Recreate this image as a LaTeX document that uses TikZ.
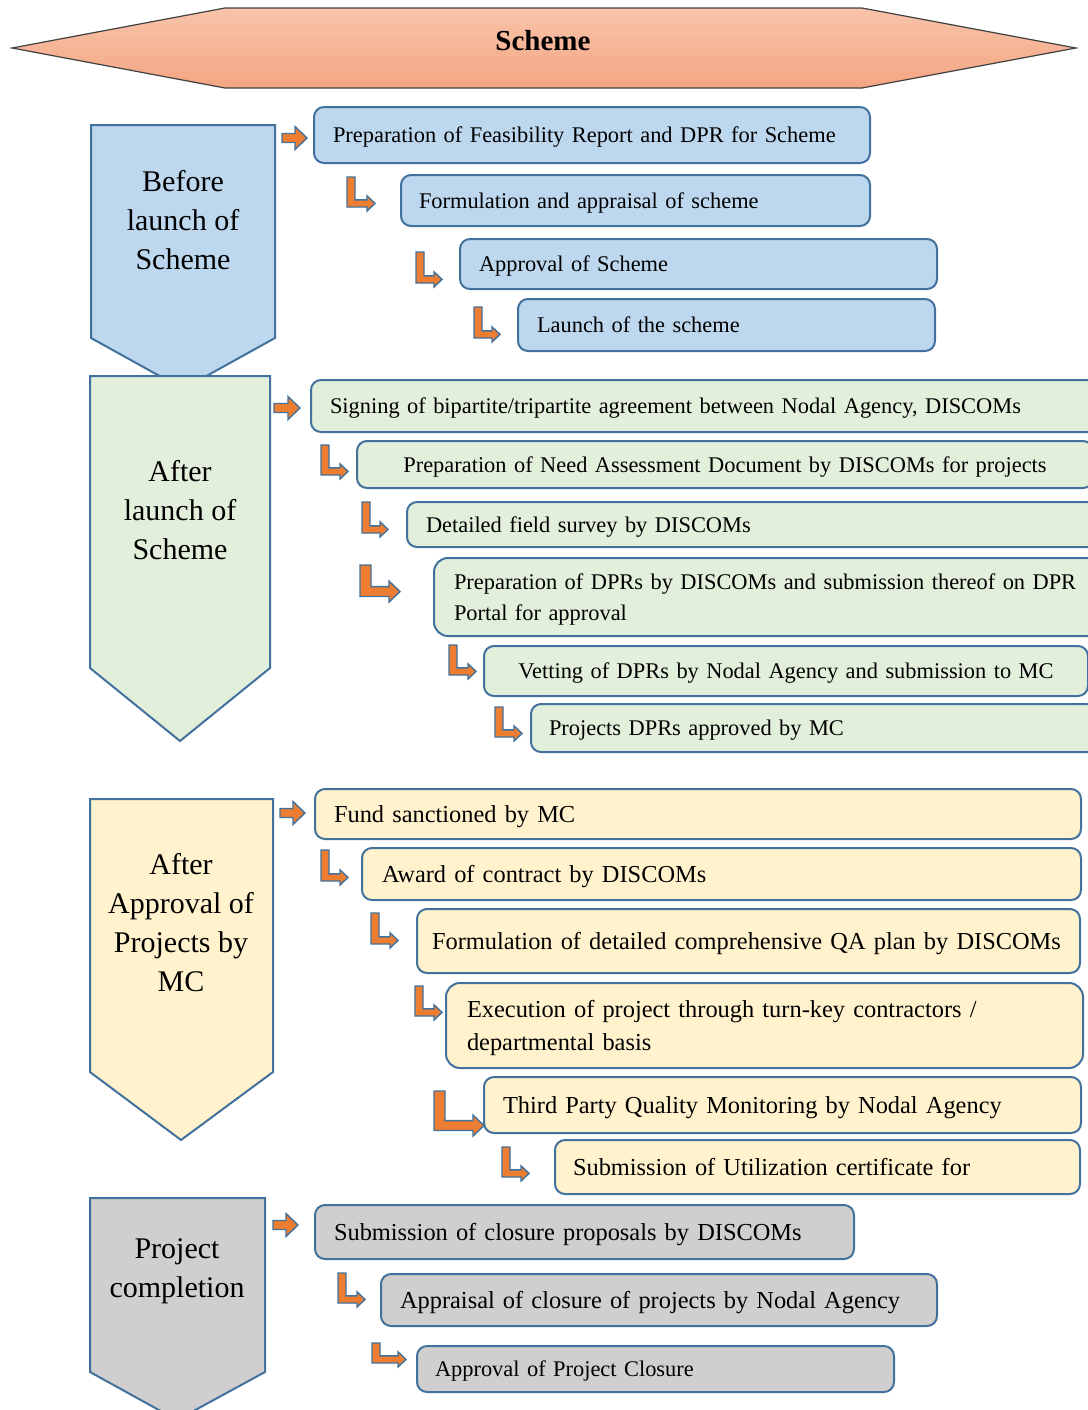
\documentclass[tikz,border=0pt]{standalone}
\usepackage{fontspec}
\setmainfont{Liberation Serif}
\hyphenpenalty=10000
\newcommand{\bentarrow}[5]{\draw[blk] (#1,#2) -- ({#1+#5},#2) -- ({#1+#5},{#4-1.4*#5}) -- ({#3-#5},{#4-1.4*#5}) -- ({#3-#5},{#4-1.9*#5}) -- (#3,{#4-0.95*#5}) -- ({#3-#5},#4) -- ({#3-#5},{#4-0.5*#5}) -- (#1,{#4-0.5*#5}) -- cycle;}
\newcommand{\rightblock}[3]{\draw[blk] (#1,{#2-4.5}) -- ({#3-12},{#2-4.5}) -- ({#3-12},{#2-11.5}) -- (#3,#2) -- ({#3-12},{#2+11.5}) -- ({#3-12},{#2+4.5}) -- (#1,{#2+4.5}) -- cycle;}
\begin{document}
\begin{tikzpicture}[x=0.5pt, y=-0.5pt,
    stepbox/.style n args={3}{draw=cbd, line width=1pt, rounded corners=5pt, anchor=north west, align=left, text depth=0pt,
      minimum width=#1*0.5pt, minimum height=#2*0.5pt, inner xsep=#3*0.5pt, inner ysep=0pt, text width=(#1-2*#3)*0.5pt},
    txta/.style={font=\fontsize{11.2}{15.5}\selectfont},
    txtb/.style={font=\fontsize{12.2}{16.5}\selectfont},
    phase/.style={draw=cbd, line width=1pt},
    phasetxt/.style={align=center, font=\fontsize{15}{19.5}\selectfont},
    blk/.style={fill=cor, draw=cbd, line width=0.7pt}]
    \definecolor{cbd}{HTML}{41719C}
    \definecolor{cor}{HTML}{ED7D31}
    \definecolor{cb}{HTML}{BDD7EE}
    \definecolor{cg}{HTML}{E2EFDA}
    \definecolor{cy}{HTML}{FFF2CC}
    \definecolor{cgr}{HTML}{D0CECE}
    \definecolor{hdt}{HTML}{F8C4AA}
    \definecolor{hdb}{HTML}{F4A582}
    \useasboundingbox (0,0) rectangle (1088,1410);
    \draw[draw=black!75, line width=0.6pt, top color=hdt, bottom color=hdb] (12,48) -- (225,8) -- (862,8) -- (1076,48) -- (862,88) -- (225,88) -- cycle;
    \node[font=\bfseries\fontsize{14.5}{17}\selectfont] (scheme) at (543,41) {Scheme};
    \draw[phase, fill=cb]  (91,125)  -- (275,125)  -- (275,338)  -- (183,389)  -- (91,338)  -- cycle;
    \draw[phase, fill=cg]  (90,376)  -- (270,376)  -- (270,668)  -- (180,741)  -- (90,668)  -- cycle;
    \draw[phase, fill=cy]  (90,799)  -- (273,799)  -- (273,1072) -- (181,1140) -- (90,1072) -- cycle;
    \draw[phase, fill=cgr] (90,1198) -- (265,1198) -- (265,1372) -- (177,1420) -- (90,1372) -- cycle;
    \node[phasetxt] (before)   at (183,220)  {Before\\launch of\\Scheme};
    \node[phasetxt] (after)    at (180,510)  {After\\launch of\\Scheme};
    \node[phasetxt] (approved) at (181,923)  {After\\Approval of\\Projects by\\MC};
    \node[phasetxt] (complete) at (177,1271) {Project\\completion};
    \node[stepbox={556}{56}{19}, fill=cb, txta] (feas)   at (313,106) {Preparation of Feasibility Report and DPR for Scheme};
    \node[stepbox={469}{51}{18}, fill=cb, txta] (formul) at (400,174) {Formulation and appraisal of scheme};
    \node[stepbox={477}{50}{19}, fill=cb, txta] (apprsc) at (459,238) {Approval of Scheme};
    \node[stepbox={417}{52}{19}, fill=cb, txta] (launch) at (517,298) {Launch of the scheme};
    \node[stepbox={790}{52}{19}, fill=cg, txta] (signing) at (310,379) {Signing of bipartite/tripartite agreement between Nodal Agency, DISCOMs};
    \node[stepbox={736}{47}{19}, fill=cg, txta, align=center] (needas) at (356,440) {Preparation of Need Assessment Document by DISCOMs for projects};
    \node[stepbox={694}{45}{19}, fill=cg, txta] (survey)  at (406,501) {Detailed field survey by DISCOMs};
    \node[stepbox={700}{78}{20}, fill=cg, txta, text depth=15.5pt, rounded corners=7pt] (dprs) at (433,557) {Preparation of DPRs by DISCOMs and submission thereof on DPR\\Portal for approval};
    \node[stepbox={604}{50}{19}, fill=cg, txta, align=center] (vetting) at (483,645) {Vetting of DPRs by Nodal Agency and submission to MC};
    \node[stepbox={570}{48}{18}, fill=cg, txta] (dprok)   at (530,703) {Projects DPRs approved by MC};
    \node[stepbox={766}{50}{19}, fill=cy, txtb] (fund)    at (314,788)  {Fund sanctioned by MC};
    \node[stepbox={719}{52}{20}, fill=cy, txtb] (award)   at (361,847)  {Award of contract by DISCOMs};
    \node[stepbox={663}{64}{15}, fill=cy, txtb] (qaplan)  at (416,908)  {Formulation of detailed comprehensive QA plan by DISCOMs};
    \node[stepbox={637}{85}{21}, fill=cy, txtb, text depth=16.5pt, rounded corners=7pt] (execut) at (445,982) {Execution of project through turn-key contractors /\\departmental basis};
    \node[stepbox={597}{56}{19}, fill=cy, txtb] (tpqm)    at (483,1076) {Third Party Quality Monitoring by Nodal Agency};
    \node[stepbox={525}{54}{18}, fill=cy, txtb] (utilis)  at (554,1139) {Submission of Utilization certificate for};
    \node[stepbox={539}{54}{19}, fill=cgr, txtb] (closure) at (314,1204) {Submission of closure proposals by DISCOMs};
    \node[stepbox={556}{52}{19}, fill=cgr, txtb] (apprcl)  at (380,1273) {Appraisal of closure of projects by Nodal Agency};
    \node[stepbox={477}{46}{18}, fill=cgr, txta] (closed)  at (416,1345) {Approval of Project Closure};
    \rightblock{282}{138}{307}
    \rightblock{274}{408}{300}
    \rightblock{280}{813}{305}
    \rightblock{273}{1225}{298}
    \bentarrow{347}{177}{375}{211}{8}
    \bentarrow{416}{252}{442}{287}{8}
    \bentarrow{474}{307}{500}{342}{8}
    \bentarrow{321}{445}{348}{479}{8}
    \bentarrow{362}{502}{388}{537}{8}
    \bentarrow{360}{565}{400}{602}{11}
    \bentarrow{449}{645}{476}{679}{8}
    \bentarrow{495}{707}{522}{741}{8}
    \bentarrow{321}{850}{348}{885}{8}
    \bentarrow{371}{913}{398}{948}{8}
    \bentarrow{415}{986}{442}{1020}{8}
    \bentarrow{434}{1091}{484}{1136}{11}
    \bentarrow{502}{1147}{529}{1181}{8}
    \bentarrow{338}{1273}{365}{1307}{8}
    \bentarrow{372}{1343}{406}{1367}{8}
\end{tikzpicture}
\end{document}
